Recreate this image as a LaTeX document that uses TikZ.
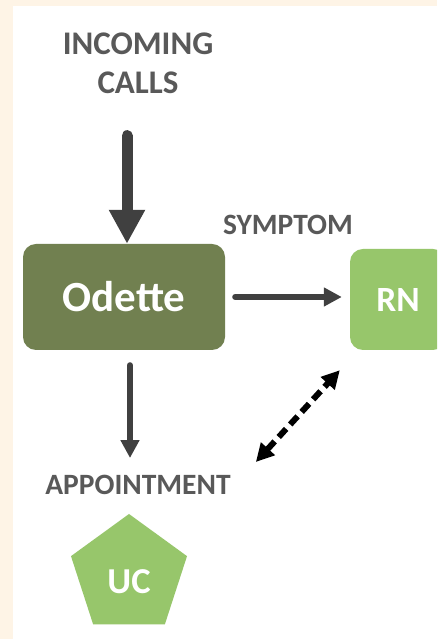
\documentclass[tikz,border=0pt]{standalone}
\usepackage{fontspec}
\setmainfont{Carlito}
\usetikzlibrary{arrows.meta,shapes.geometric}
\definecolor{cream}{RGB}{254,244,230}
\definecolor{olive}{RGB}{113,128,80}
\definecolor{leaf}{RGB}{151,198,107}
\definecolor{ink}{RGB}{89,89,89}
\definecolor{shaft}{RGB}{64,64,64}
\begin{document}
\begin{tikzpicture}[x=1pt, y=1pt,
  label/.style={inner sep=0pt, text=ink, font=\bfseries\fontsize{29.5}{35}\selectfont},
  box/.style={rounded corners=13pt, inner sep=0pt, text=white},
  flow/.style={shaft, line width=6pt, line cap=round, -{Triangle[width=18pt,length=18pt]}}]
\useasboundingbox (0,0) rectangle (437,639);
\clip (0,0) rectangle (437,639);
\fill[cream] (0,0) rectangle (437,639);
\fill[white] (13,0) rectangle (437,633);
% the caller side
\node[label, align=center, font=\bfseries\fontsize{33}{39}\selectfont] (incoming) at (138,576) {INCOMING\\CALLS};
\node[box, fill=olive, minimum width=202pt, minimum height=106pt,
  font=\bfseries\fontsize{43}{50}\selectfont] (odette) at (124,342) {Odette};
\node[box, fill=leaf, minimum width=96pt, minimum height=101pt,
  font=\bfseries\fontsize{35.5}{42}\selectfont] (rn) at (398,339.5) {RN};
\node[label] (symptom) at (288,414) {SYMPTOM};
\node[label] (appt) at (138,154) {APPOINTMENT};
\node[regular polygon, regular polygon sides=5, fill=leaf, inner sep=0pt,
  minimum size=122pt, text=white, text height=37pt,
  font=\bfseries\fontsize{36.5}{44}\selectfont] (uc) at (129,64) {UC};
% arrows
\draw[shaft, line width=11pt, line cap=round, -{Triangle[width=34pt,length=34pt]}, shorten <=42pt]
  (incoming.south -| 127,0) -- (odette.north -| 127,0);
\draw[flow, shorten <=10pt, shorten >=8pt] (odette.east) -- (rn.west |- odette.east);
\draw[flow, shorten <=15pt, shorten >=17pt] ([xshift=6pt]odette.south) -- ([xshift=6pt]odette.south |- appt.north);
\draw[black, line width=6pt, dash pattern=on 11pt off 6pt,
  {Triangle[width=18pt,length=18pt]}-{Triangle[width=18pt,length=18pt]}]
  ([shift={(25pt,23pt)}]appt.east) -- ([shift={(-10pt,-20pt)}]rn.south west);
\end{tikzpicture}
\end{document}
